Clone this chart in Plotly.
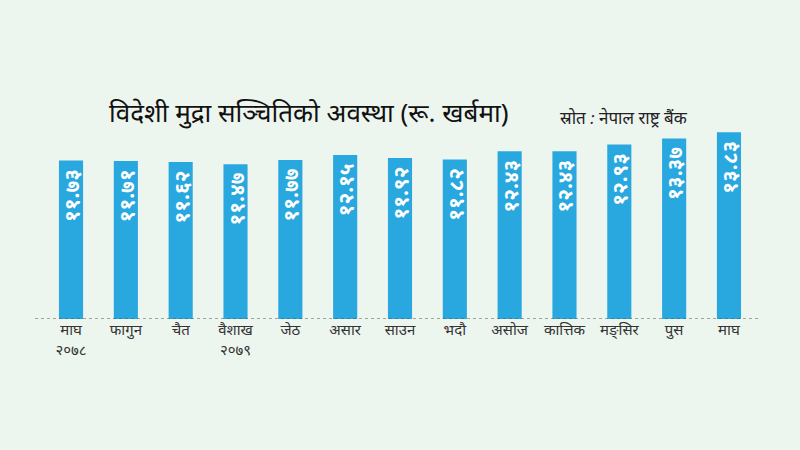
import plotly.graph_objects as go

months = ["माघ<br>२०७८", "फागुन", "चैत", "वैशाख<br>२०७९", "जेठ", "असार", "साउन",
          "भदौ", "असोज", "कात्तिक", "मङ्सिर", "पुस", "माघ"]
values = [11.73, 11.71, 11.62, 11.47, 11.77, 12.15, 11.92, 11.82, 12.43, 12.43, 12.93, 13.37, 13.83]

DEV = str.maketrans("0123456789", "०१२३४५६७८९")
value_labels = [f"{v:.2f}".translate(DEV) + "\u00a0" for v in values]
xs = list(range(len(months)))

BG = "#edf5ef"
BLUE = "#29a8e0"

fig = go.Figure()
fig.add_trace(go.Bar(
    x=xs, y=values, width=0.44,
    marker=dict(color=BLUE, line=dict(width=0)),
    text=value_labels, textposition="inside", insidetextanchor="end",
    textangle=-90, constraintext="none",
    textfont=dict(family="Noto Sans, sans-serif", size=21, color="white", weight="bold"),
    hoverinfo="skip",
))

fig.add_shape(type="line", xref="paper", yref="y", x0=0, x1=1, y0=0, y1=0,
              line=dict(color="#555555", width=1, dash="dot"))

fig.add_annotation(xref="paper", yref="paper", x=0.0993, y=0.945,
                   xanchor="left", yanchor="middle", showarrow=False,
                   text="विदेशी मुद्रा सञ्चितिको अवस्था (रू. खर्बमा)",
                   font=dict(family="Noto Sans, sans-serif", size=26, color="#111111"))
fig.add_annotation(xref="paper", yref="paper", x=0.722, y=0.918,
                   xanchor="left", yanchor="middle", showarrow=False,
                   text="<i>स्रोत : नेपाल राष्ट्र बैंक</i>",
                   font=dict(family="Noto Sans, sans-serif", size=17, color="#222222"))

fig.update_layout(
    width=800, height=450,
    margin=dict(l=35, r=40, t=100, b=131),
    paper_bgcolor=BG, plot_bgcolor=BG,
    showlegend=False,
    uniformtext=dict(minsize=21, mode="show"),
    xaxis=dict(range=[-0.657, 12.566], tickmode="array", tickvals=xs, ticktext=months,
               showgrid=False, zeroline=False, showline=False, ticks="",
               tickfont=dict(family="Noto Sans, sans-serif", size=15, color="#333333")),
    yaxis=dict(range=[0, 16.22], visible=False, showgrid=False, zeroline=False),
)

fig.write_html("out.html")
